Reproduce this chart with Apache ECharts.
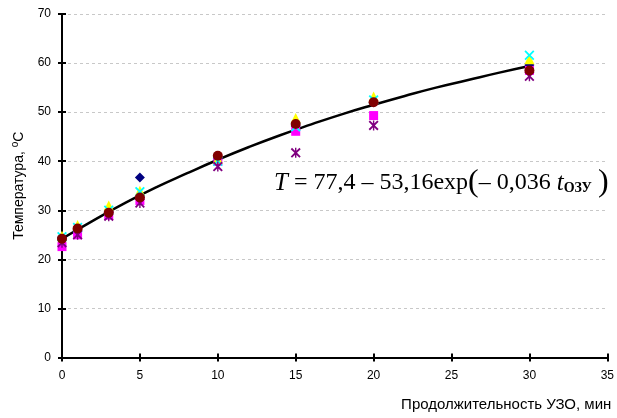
<!DOCTYPE html>
<html>
<head>
<meta http-equiv="Content-Type" content="text/html; charset=UTF-8" />
<title>Температура</title>
<script src="https://cdn.jsdelivr.net/npm/echarts@6/dist/echarts.min.js"></script>
<style type="text/css">
  html, body { margin: 0; padding: 0; background: #fff; }
  #chartmain { width: 617px; height: 418px; }
</style>
</head>
<body>
<div id="chartmain"></div>
<script type="text/javascript">
// время, мин
var times = [0, 1, 3, 5, 10, 15, 20, 30];
// опыты
var s1 = [24.5, 26.0, 29.8, 36.7, 40.5, 47.2, 52.0, 59.6];
var s2 = [22.6, 25.0, 29.0, 32.0, 40.0, 46.1, 49.3, 58.5];
var s3 = [24.8, 27.0, 31.0, 34.0, 40.5, 48.8, 53.2, 60.8];
var s4 = [24.6, 26.5, 30.0, 33.8, 40.0, 47.0, 52.5, 61.6];
var s5 = [23.4, 25.0, 28.8, 31.5, 38.9, 41.7, 47.3, 57.3];
var s6 = [24.2, 26.3, 29.5, 32.6, 41.1, 47.6, 52.0, 58.5];
var fitT = [0, 2, 4, 6, 8, 10, 12, 14, 16, 18, 20, 22, 24, 26, 28, 30];
var fitV = [24.2, 27.9, 31.4, 34.6, 37.5, 40.3, 42.9, 45.3, 47.5, 49.6, 51.5, 53.3, 55.0, 56.5, 58.0, 59.4];

function pairs(xs, ys) {
    var out = [];
    for (var i = 0; i < xs.length; i++) out.push([xs[i], ys[i]]);
    return out;
}

var crossPath = 'path://M0,1.3 L1.3,0 L5,3.7 L8.7,0 L10,1.3 L6.3,5 L10,8.7 L8.7,10 L5,6.3 L1.3,10 L0,8.7 L3.7,5 Z';
var starPath = 'path://M0,1.3 L1.3,0 L5,3.7 L8.7,0 L10,1.3 L6.3,5 L10,8.7 L8.7,10 L5,6.3 L1.3,10 L0,8.7 L3.7,5 Z M4.3,0 L5.7,0 L5.7,10 L4.3,10 Z';

function pts(data, color, symbol, size) {
    return {
        type: 'scatter',
        data: pairs(times, data),
        symbol: symbol,
        symbolSize: size,
        itemStyle: { color: color, opacity: 1 },
        z: 3
    };
}

var mychart = echarts.init(document.getElementById('chartmain'));
var myoption = {
    animation: false,
    backgroundColor: '#ffffff',
    textStyle: { fontFamily: 'Liberation Sans, Arial' },
    grid: { left: 62, right: 8.5, top: 14, bottom: 60.5 },
    xAxis: [{
        type: 'value',
        min: 0, max: 35, interval: 5,
        name: 'Продолжительность УЗО, мин',
        nameLocation: 'end',
        nameGap: 4,
        nameTextStyle: { fontSize: 15, color: '#000', align: 'right', verticalAlign: 'top', padding: [40, 0, 0, 0] },
        axisLine: { lineStyle: { color: '#000', width: 2 } },
        axisTick: { length: 4, lineStyle: { color: '#000', width: 2 } },
        axisLabel: { color: '#000', fontSize: 12, margin: 12 },
        splitLine: { show: false }
    }, {
        type: 'value',
        min: 0, max: 35, interval: 5,
        position: 'bottom',
        axisLine: { show: false },
        axisTick: { inside: true, length: 4, lineStyle: { color: '#000', width: 2 } },
        axisLabel: { show: false },
        splitLine: { show: false }
    }],
    yAxis: [{
        type: 'value',
        min: 0, max: 70, interval: 10,
        name: 'Температура, {sup|o}C',
        nameLocation: 'middle',
        nameGap: 34,
        nameTextStyle: {
            fontSize: 14, color: '#000',
            rich: { sup: { fontSize: 10, verticalAlign: 'bottom', padding: [0, 0, 8, 0], color: '#000' } }
        },
        axisLine: { show: true, lineStyle: { color: '#000', width: 2 } },
        axisTick: { show: true, length: 4, lineStyle: { color: '#000', width: 2 } },
        axisLabel: { color: '#000', fontSize: 12, margin: 11 },
        splitLine: { show: true, lineStyle: { color: '#c8c8c8', type: [3, 3], width: 1 } }
    }, {
        type: 'value',
        min: 0, max: 70, interval: 10,
        position: 'left',
        axisLine: { show: false },
        axisTick: { show: true, inside: true, length: 4, lineStyle: { color: '#000', width: 2 } },
        axisLabel: { show: false },
        splitLine: { show: false }
    }],
    graphic: [{
        type: 'text',
        left: 274,
        top: 167,
        style: {
            text: '{it|T} = 77,4 – 53,16exp{p|(}– 0,036 {it|t}{sub|ОЗУ} {p|)}',
            font: '24px "Liberation Serif", "Times New Roman", serif',
            fill: '#000',
            rich: {
                it: { fontStyle: 'italic', fontSize: 25, fontFamily: 'Liberation Serif' },
                sub: { fontSize: 14, fontWeight: 'bold', fontFamily: 'Liberation Serif', padding: [10, 0, 0, 0] },
                p: { fontSize: 32, fontFamily: 'Liberation Serif' }
            }
        }
    }],
    series: [
        {
            type: 'line',
            data: pairs(fitT, fitV),
            smooth: true,
            showSymbol: false,
            symbol: 'none',
            lineStyle: { color: '#000', width: 2.5 },
            z: 2
        },
        pts(s1, '#000080', 'diamond', 10),
        pts(s2, '#ff00ff', 'rect', 9),
        pts(s3, '#ffff00', 'triangle', 10),
        pts(s4, '#00ffff', crossPath, 10),
        pts(s5, '#800080', starPath, 10),
        pts(s6, '#800000', 'circle', 10)
    ]
};
mychart.setOption(myoption);
</script>
</body>
</html>
